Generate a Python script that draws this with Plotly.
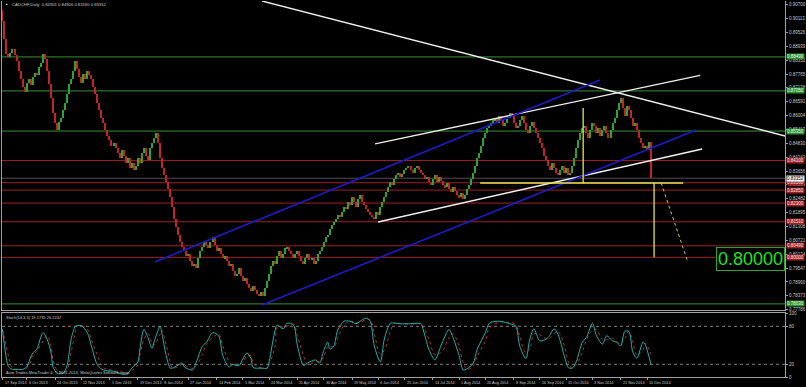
import plotly.graph_objects as go
import pandas as pd

# ---------------- data ----------------
first_open_pips = 9049
close_pips = [
    8999, 8924, 8861, 8849, 8865, 8882, 8857, 8832, 8790, 8757, 8723, 8702,
    8740, 8757, 8732, 8765, 8782, 8773, 8807, 8823, 8861, 8840, 8790, 8736,
    8673, 8610, 8568, 8539, 8573, 8589, 8623, 8652, 8694, 8736, 8757, 8790,
    8832, 8798, 8765, 8740, 8777, 8757, 8790, 8773, 8757, 8723, 8694, 8652,
    8623, 8589, 8568, 8539, 8514, 8497, 8472, 8485,
    8464, 8443, 8422, 8456, 8431, 8401, 8422, 8380, 8401, 8372,
    8389, 8422, 8401, 8443, 8464, 8431, 8414, 8464, 8485, 8506,
    8527, 8485, 8422, 8380, 8347,
    8318, 8288, 8255, 8213, 8163, 8130, 8096, 8067, 8046, 8025,
    8004, 8013, 7983, 7962, 7971, 7954, 7996,
    8025, 8046, 8067, 8054, 8038, 8067, 8088, 8054, 8025, 8038, 8013, 7996, 8004,
    7983, 7962, 7971, 7941, 7920, 7929, 7954, 7920, 7900, 7912, 7887, 7870, 7858, 7879, 7862, 7845, 7837, 7854,
    7837, 7870, 7900, 7929, 7962, 7983, 7971, 8004, 8025, 7996, 8013, 8038,
    8046, 8025, 8013, 7996, 8013, 8025, 8004, 7983, 7971, 7996,
    8013, 7987, 7996, 7971, 7983, 8013, 8025, 8046,
    8067, 8088, 8096, 8121, 8138, 8151, 8163, 8180, 8171, 8192,
    8213, 8205, 8234, 8222, 8255, 8234, 8213, 8247, 8263, 8234, 8222, 8205, 8192, 8180,
    8171, 8163, 8192, 8180, 8213, 8234,
    8255, 8276, 8297, 8318, 8305, 8330, 8347, 8359, 8339, 8355, 8372, 8380, 8389, 8372, 8359, 8380, 8389,
    8372, 8359, 8347, 8330, 8339, 8318, 8305, 8330, 8347, 8318, 8339, 8322, 8305, 8297, 8314, 8288, 8276, 8297, 8280, 8263,
    8255, 8272, 8247, 8263, 8288, 8305, 8330,
    8359, 8389, 8422, 8443, 8472, 8506, 8527, 8548, 8556, 8568, 8581, 8589, 8568,
    8598, 8581, 8556, 8568, 8589, 8610, 8598, 8568, 8548, 8556, 8581, 8598, 8568, 8539, 8527, 8556, 8573, 8548, 8527, 8506,
    8485, 8464, 8431, 8414, 8389, 8372, 8401, 8380, 8359, 8347, 8372, 8389, 8359, 8380, 8347, 8359, 8389,
    8422, 8464, 8497, 8527, 8548, 8556, 8527, 8506, 8539, 8568, 8556, 8527, 8548,
    8514, 8539, 8556, 8527, 8506, 8539, 8568, 8589, 8623, 8652, 8673, 8631, 8598, 8640, 8623,
    8589, 8556, 8568, 8539, 8506, 8485, 8464, 8472, 8456, 8490, 8335,
]

date_labels = ["17 Sep 2013", "6 Oct 2013", "24 Oct 2013", "12 Nov 2013", "1 Dec 2013",
               "19 Dec 2013", "8 Jan 2014", "27 Jan 2014", "14 Feb 2014", "5 Mar 2014",
               "24 Mar 2014", "11 Apr 2014", "30 Apr 2014", "19 May 2014", "6 Jun 2014",
               "25 Jun 2014", "14 Jul 2014", "1 Aug 2014", "20 Aug 2014", "8 Sep 2014",
               "26 Sep 2014", "15 Oct 2014", "3 Nov 2014", "21 Nov 2014", "10 Dec 2014"]
date_label_bar = [0, 12, 26, 39, 53, 67, 79, 92, 106, 119, 132, 146, 159, 173, 186,
                  199, 213, 226, 239, 253, 266, 279, 292, 306, 319]

price_labels = ["0.90700", "0.90113", "0.89526", "0.88939", "0.88352", "0.87765",
                "0.87178", "0.86591", "0.86004", "0.85417", "0.84830", "0.84243",
                "0.83656", "0.83069", "0.82482", "0.81895", "0.81308", "0.80721",
                "0.80134", "0.79547", "0.78960", "0.78373", "0.77786"]

green_levels = [0.8849, 0.8705, 0.8535, 0.7803]
red_levels = [0.8410, 0.8316, 0.8285, 0.8230, 0.8151, 0.8049, 0.8000]
last_price = 0.83352

# trend lines: (bar0, price0, bar1, price1)
white_lines = [(128.5, 0.90858, 387.4, 0.8514),
               (184.4, 0.84806, 345.3, 0.87707),
               (185.9, 0.81498, 346.3, 0.84590)]
blue_lines = [(75.5, 0.79804, 295.8, 0.87512),
              (128.5, 0.77983, 343.3, 0.85394)]
yellow_lines = [(236.4, 0.8315, 336.9, 0.8315),
                (287.4, 0.86326, 287.4, 0.8315),
                (322.5, 0.8315, 322.5, 0.8000)]
yellow_dotted = [(326.0, 0.8315, 338.9, 0.79889)]
target_text = "0.80000"
target_bar, target_price = 370, 0.7993

stoch_bar = [0, 1, 3, 5, 8, 10, 12, 14, 15, 17, 20, 22, 24, 25, 27, 30, 32, 34, 36, 37,
             39, 42, 44, 47, 50, 55, 60, 62, 64, 67, 68, 70, 72, 74, 75, 78, 79, 81, 83, 84,
             87, 89, 90, 94, 96, 99, 101, 104, 107, 109, 112, 114, 117, 119, 121, 123, 124, 128, 131, 132,
             135, 136, 139, 141, 144, 146, 149, 151, 155, 157, 159, 161, 162, 164, 166, 169, 172, 175, 177, 180,
             182, 184, 187, 189, 192, 194, 197, 202, 207, 208, 211, 214, 217, 221, 223, 226, 228, 230, 233, 235,
             239, 241, 246, 250, 254, 256, 259, 261, 263, 266, 270, 273, 275, 278, 280, 282, 284, 287, 289, 292,
             294, 297, 299, 302, 304, 306, 308, 310, 312, 314, 317, 318, 321]
stoch_main = [75, 49, 16, 12, 12, 12, 16, 32, 38, 44, 70, 60, 39, 16, 6, 6, 19, 60, 80, 81,
              81, 70, 49, 19, 11, 9, 4, 6, 14, 24, 44, 75, 62, 45, 55, 80, 67, 34, 14, 14,
              19, 22, 16, 11, 24, 49, 55, 70, 65, 34, 16, 20, 18, 29, 38, 29, 15, 14, 14, 25,
              75, 82, 76, 85, 82, 49, 18, 22, 27, 22, 42, 55, 44, 49, 75, 88, 88, 84, 88, 93,
              88, 49, 24, 60, 85, 85, 84, 84, 84, 77, 44, 27, 49, 75, 62, 34, 11, 13, 22, 44,
              70, 85, 88, 85, 80, 49, 29, 60, 76, 57, 62, 76, 67, 34, 15, 14, 24, 55, 62, 85,
              65, 52, 65, 57, 55, 49, 72, 72, 39, 30, 55, 52, 19.17]

# ---------------- build ----------------
closes = [v / 10000 for v in close_pips]
opens = [first_open_pips / 10000] + closes[:-1]
bars = list(range(len(closes)))
body_base = [min(o, c) for o, c in zip(opens, closes)]
body_len = [max(abs(c - o), 0.00012) for o, c in zip(opens, closes)]
body_col = ["#2fa52f" if c >= o else "#c42424" for o, c in zip(opens, closes)]
signal = pd.Series(stoch_main).rolling(2, min_periods=1).mean().tolist()

FONT = "Liberation Sans, Arial, sans-serif"
TXT = "#c8c8c8"
X_RANGE = [-0.25, 387.3]

fig = go.Figure()
fig.add_trace(go.Bar(x=bars, y=body_len, base=body_base, width=0.62,
                     marker=dict(color=body_col, line=dict(width=0)),
                     hoverinfo="skip", showlegend=False, xaxis="x", yaxis="y"))

fig.add_trace(go.Scatter(x=stoch_bar, y=signal, mode="lines",
                         line=dict(color="#b03030", width=1, dash="dot", shape="spline"),
                         xaxis="x2", yaxis="y2", showlegend=False, hoverinfo="skip"))
fig.add_trace(go.Scatter(x=stoch_bar, y=stoch_main, mode="lines",
                         line=dict(color="#20b2aa", width=1, shape="spline", smoothing=0.8),
                         xaxis="x2", yaxis="y2", showlegend=False, hoverinfo="skip"))

shapes = []
for lv in green_levels:
    shapes.append(dict(type="line", xref="paper", x0=0, x1=1, yref="y", y0=lv, y1=lv,
                       line=dict(color="#3a8f3a", width=1), layer="below"))
for lv in red_levels:
    shapes.append(dict(type="line", xref="paper", x0=0, x1=1, yref="y", y0=lv, y1=lv,
                       line=dict(color="#a02020", width=1), layer="below"))
shapes.append(dict(type="line", xref="paper", x0=0, x1=1, yref="y", y0=last_price, y1=last_price,
                   line=dict(color="#505050", width=1), layer="below"))
for (a, pa, b, pb) in white_lines:
    shapes.append(dict(type="line", xref="x", yref="y", x0=a, y0=pa, x1=b, y1=pb,
                       line=dict(color="#f0f0f0", width=1.3)))
for (a, pa, b, pb) in blue_lines:
    shapes.append(dict(type="line", xref="x", yref="y", x0=a, y0=pa, x1=b, y1=pb,
                       line=dict(color="#1c1cc8", width=1.6)))
for (a, pa, b, pb) in yellow_lines:
    shapes.append(dict(type="line", xref="x", yref="y", x0=a, y0=pa, x1=b, y1=pb,
                       line=dict(color="#e6e650", width=1.3)))
for (a, pa, b, pb) in yellow_dotted:
    shapes.append(dict(type="line", xref="x", yref="y", x0=a, y0=pa, x1=b, y1=pb,
                       line=dict(color="#c8c864", width=1, dash="dot")))
for lv in (20, 80):
    shapes.append(dict(type="line", xref="paper", x0=0, x1=1, yref="y2", y0=lv, y1=lv,
                       line=dict(color="#808080", width=1, dash="dot"), layer="below"))

annotations = []
for lv in green_levels:
    annotations.append(dict(xref="paper", x=1, xanchor="left", xshift=1, yref="y", y=lv,
                            text=f"{lv:.5f}", showarrow=False, bgcolor="#2f8f2f",
                            font=dict(family=FONT, size=4.5, color="#e0ffe0"), borderpad=0))
for lv in red_levels:
    annotations.append(dict(xref="paper", x=1, xanchor="left", xshift=1, yref="y", y=lv,
                            text=f"{lv:.5f}", showarrow=False, bgcolor="#a02020",
                            font=dict(family=FONT, size=4.5, color="#ffe0e0"), borderpad=0))
annotations.append(dict(xref="paper", x=1, xanchor="left", xshift=1, yref="y", y=last_price,
                        text=f"{last_price:.5f}", showarrow=False, bgcolor="#f0f0f0",
                        font=dict(family=FONT, size=4.5, color="#000000"), borderpad=0))
annotations.append(dict(xref="x", x=target_bar, yref="y", y=target_price, text=target_text,
                        showarrow=False, font=dict(family=FONT, size=18, color="#22e022"),
                        bordercolor="#2fa52f", borderwidth=1, borderpad=1, bgcolor="#000000"))
annotations.append(dict(xref="paper", x=0.0025, xanchor="left", yref="paper", y=0.99,
                        yanchor="middle", showarrow=False, text="\u25aa",
                        font=dict(family=FONT, size=5, color="#e8e8e8")))
annotations.append(dict(xref="paper", x=0.01, xanchor="left", yref="paper", y=0.987,
                        yanchor="middle", showarrow=False,
                        text="CADCHF,Daily  0.84901 0.84906 0.83180 0.83352",
                        font=dict(family=FONT, size=4.2, color=TXT)))
annotations.append(dict(xref="paper", x=0.002, xanchor="left", yref="paper", y=0.158,
                        yanchor="middle", showarrow=False,
                        text="Stoch(14,3,3) 19.1735 26.2242",
                        font=dict(family=FONT, size=4.0, color=TXT)))
annotations.append(dict(xref="paper", x=0.002, xanchor="left", yref="paper", y=0.012,
                        yanchor="middle", showarrow=False,
                        text="Auto Trades MetaTrader 4, \u00a9 2001-2014, MetaQuotes Software Corp.",
                        font=dict(family=FONT, size=4.0, color=TXT)))
for b, lab in zip(date_label_bar, date_labels):
    annotations.append(dict(xref="x2", x=b, xanchor="left", yref="paper", y=0,
                            yanchor="top", yshift=-2, showarrow=False, text=lab,
                            font=dict(family=FONT, size=3.8, color=TXT)))

fig.update_layout(
    width=806, height=387,
    margin=dict(l=2, r=21, t=0, b=10),
    paper_bgcolor="#000000", plot_bgcolor="#000000",
    showlegend=False, bargap=0,
    shapes=shapes, annotations=annotations,
    xaxis=dict(domain=[0, 1], anchor="y", range=X_RANGE, showticklabels=False,
               showgrid=False, zeroline=False, showline=True, linecolor="#a0a0a0",
               linewidth=1, fixedrange=True),
    yaxis=dict(domain=[0.17772, 0.99735], range=[0.77771, 0.90858], side="right",
               tickvals=[float(s) for s in price_labels], ticktext=price_labels,
               ticks="outside", ticklen=2, tickcolor="#a0a0a0",
               tickfont=dict(family=FONT, size=4.5, color=TXT),
               showgrid=False, zeroline=False, showline=True, linecolor="#a0a0a0",
               mirror=True, automargin=False),
    xaxis2=dict(domain=[0, 1], anchor="y2", range=X_RANGE,
                tickvals=date_label_bar, showticklabels=False,
                ticks="outside", ticklen=2, tickcolor="#a0a0a0",
                showgrid=False, zeroline=False, showline=True, linecolor="#a0a0a0",
                mirror=True, automargin=False),
    yaxis2=dict(domain=[0, 0.16976], range=[0, 101], side="right", anchor="x2",
                tickvals=[0, 20, 80, 100], ticktext=["0", "20", "80", "100"],
                ticks="outside", ticklen=2, tickcolor="#a0a0a0",
                tickfont=dict(family=FONT, size=4.5, color=TXT),
                showgrid=False, zeroline=False, showline=True, linecolor="#a0a0a0",
                mirror=True, automargin=False),
)

fig.write_html("out.html", config={"displayModeBar": False},
               post_script="document.body.style.margin='0px';")
